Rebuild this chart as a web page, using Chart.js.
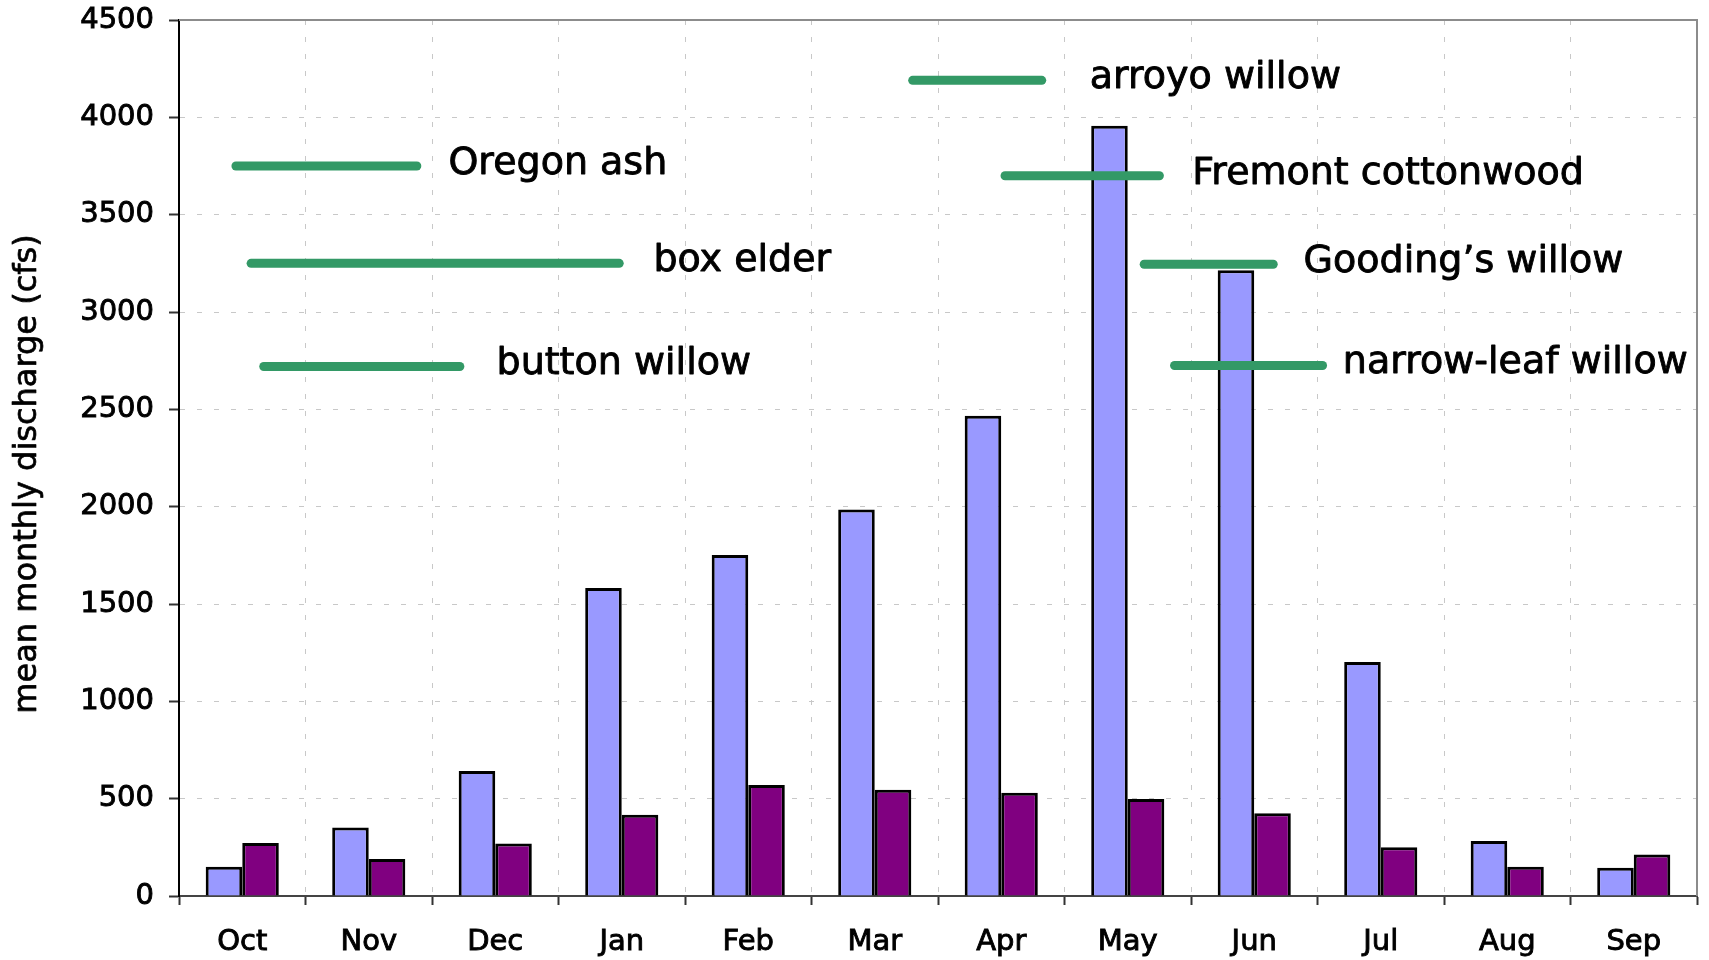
<!DOCTYPE html>
<html>
<head>
<meta charset="utf-8">
<script src="https://cdn.jsdelivr.net/npm/chart.js@4/dist/chart.umd.min.js"></script>
<style>
  html, body { margin: 0; padding: 0; background: #fff; }
  #wrap { width: 1709px; height: 960px; position: relative; }
</style>
</head>
<body>
<div id="wrap"><canvas id="flows"></canvas></div>
<script>
// months of the water year
const months = ['Oct', 'Nov', 'Dec', 'Jan', 'Feb', 'Mar', 'Apr', 'May', 'Jun', 'Jul', 'Aug', 'Sep'];
// mean monthly discharge, cfs
const unimpaired = [150, 352, 642, 1582, 1752, 1985, 2467, 3957, 3215, 1202, 283, 145];
const regulated = [272, 190, 270, 418, 570, 546, 530, 498, 425, 250, 150, 213];
const yTicks = [0, 500, 1000, 1500, 2000, 2500, 3000, 3500, 4000, 4500];
const yTitle = 'mean monthly discharge (cfs)';

// seed release windows per species (month index units) and the flow level they sit at
const species = ['Oregon ash', 'box elder', 'button willow', 'arroyo willow', 'Fremont cottonwood', 'Gooding\u2019s willow', 'narrow-leaf willow'];
const seedStart = [-0.05, 0.07, 0.17, 5.30, 6.03, 7.13, 7.37];
const seedEnd = [1.38, 2.98, 1.72, 6.32, 7.25, 8.15, 8.54];
const seedLevel = [3750, 3250, 2720, 4190, 3700, 3245, 2725];
const labelAt = [1.63, 3.25, 2.01, 6.70, 7.51, 8.39, 8.70];

const font = 'DejaVu Sans, Verdana, sans-serif';

// frame on top/right, axis title, plus the species bars and names
const seedPlugin = {
    id: 'seedPlugin',
    afterDatasetsDraw(chart) {
        const ctx = chart.ctx;
        const a = chart.chartArea;
        const xs = chart.scales.x, ys = chart.scales.y;
        ctx.save();
        ctx.strokeStyle = '#8c8c8c';
        ctx.lineWidth = 2;
        ctx.beginPath();
        ctx.moveTo(a.left, a.top);
        ctx.lineTo(a.right, a.top);
        ctx.lineTo(a.right, a.bottom);
        ctx.stroke();

        ctx.strokeStyle = '#339966';
        ctx.lineWidth = 9;
        ctx.lineCap = 'round';
        species.forEach((name, i) => {
            const y = ys.getPixelForValue(seedLevel[i]);
            ctx.beginPath();
            ctx.moveTo(xs.getPixelForValue(seedStart[i]), y);
            ctx.lineTo(xs.getPixelForValue(seedEnd[i]), y);
            ctx.stroke();
        });

        ctx.fillStyle = '#000';
        ctx.strokeStyle = '#000';
        ctx.lineWidth = 0.9;
        ctx.lineJoin = 'round';
        ctx.font = '38px ' + font;
        ctx.textAlign = 'left';
        ctx.textBaseline = 'middle';
        species.forEach((name, i) => {
            const y = ys.getPixelForValue(seedLevel[i]) - 2;
            const x = xs.getPixelForValue(labelAt[i]);
            ctx.fillText(name, x, y);
            ctx.strokeText(name, x, y);
        });

        // rotated y axis title
        ctx.font = '32px ' + font;
        ctx.textAlign = 'center';
        ctx.translate(28, 474);
        ctx.rotate(-Math.PI / 2);
        ctx.fillText(yTitle, 0, 0);
        ctx.lineWidth = 0.7;
        ctx.strokeText(yTitle, 0, 0);
        ctx.restore();
    }
};

new Chart(document.getElementById('flows'), {
    type: 'bar',
    data: {
        labels: months,
        datasets: [
            {
                label: 'unimpaired',
                data: unimpaired,
                backgroundColor: '#9999ff',
                borderColor: '#000',
                borderWidth: 3
            },
            {
                label: 'regulated',
                data: regulated,
                backgroundColor: '#800080',
                borderColor: '#000',
                borderWidth: 3
            }
        ]
    },
    options: {
        responsive: true,
        maintainAspectRatio: false,
        animation: false,
        layout: { padding: { top: 20, right: 12, left: 0, bottom: 0 } },
        datasets: { bar: { categoryPercentage: 0.578, barPercentage: 1 } },
        plugins: {
            legend: { display: false },
            tooltip: { enabled: false }
        },
        scales: {
            x: {
                afterFit(scale) { scale.height = 64; },
                grid: {
                    color: '#c8c8c8',
                    tickColor: '#333',
                    tickLength: 9,
                    tickWidth: 2,
                    offset: true
                },
                border: { color: '#444', width: 2, dash: [5, 12] },
                ticks: {
                    color: '#000',
                    font: { family: font, size: 29 },
                    textStrokeColor: '#000',
                    textStrokeWidth: 0.9,
                    padding: 20,
                    maxRotation: 0
                }
            },
            y: {
                min: 0,
                max: 4500,
                afterFit(scale) { scale.width = 179; },
                afterBuildTicks(scale) { scale.ticks = yTicks.map(v => ({ value: v })); },
                grid: {
                    color: '#c8c8c8',
                    tickColor: '#333',
                    tickLength: 10,
                    tickWidth: 2
                },
                border: { color: '#000', width: 2, dash: [5, 12] },
                ticks: {
                    color: '#000',
                    font: { family: font, size: 29, lineHeight: 0.25 },
                    textStrokeColor: '#000',
                    textStrokeWidth: 0.9,
                    padding: 15,
                    callback: v => String(v)
                }
            }
        }
    },
    plugins: [seedPlugin]
});
</script>
</body>
</html>
